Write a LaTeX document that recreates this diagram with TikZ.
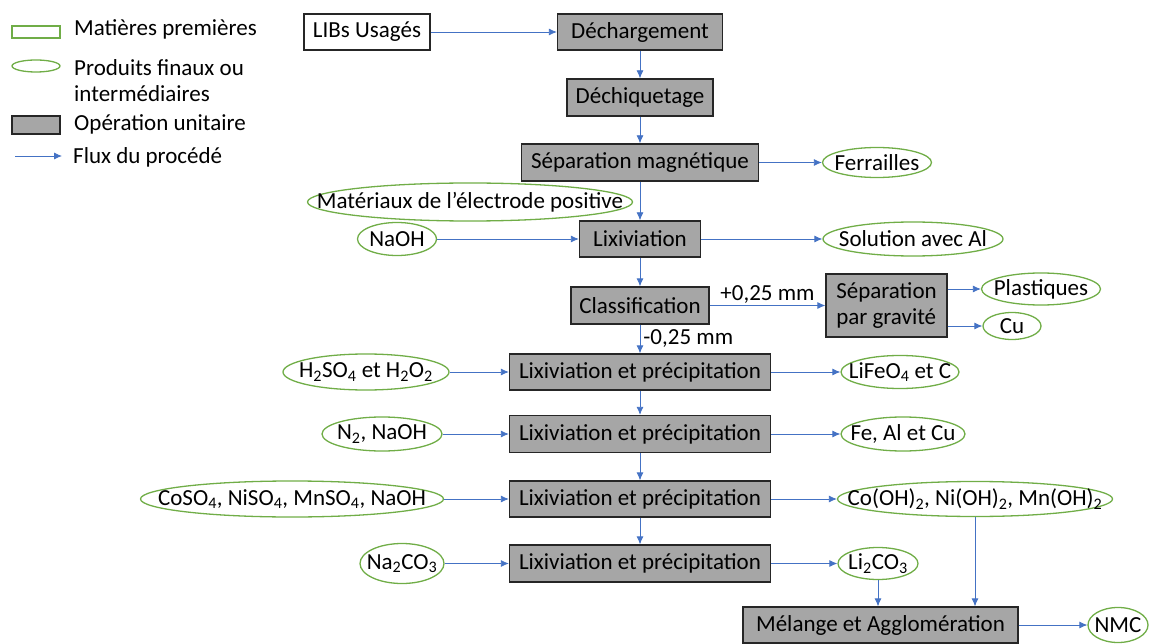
\documentclass[tikz,border=0pt]{standalone}
\usepackage{fontspec}
\setmainfont{Carlito}
\usetikzlibrary{shapes.geometric,arrows.meta}
\definecolor{vertcadre}{RGB}{112,173,71}
\definecolor{grisop}{RGB}{166,166,166}
\definecolor{bleuflux}{RGB}{68,114,196}

\begin{document}
\begin{tikzpicture}[x=1pt, y=-1pt,
    every node/.style={font=\fontsize{23}{26}\selectfont, inner sep=0pt},
    every label/.style={inner sep=0pt},
    op/.style={draw=black!85, fill=grisop, line width=1.3pt, minimum height=36pt},
    entree/.style={draw=black!85, fill=white, line width=1.3pt, minimum height=36pt},
    prod/.style={ellipse, draw=vertcadre, line width=1.3pt, label={center:{#1}}},
    prod/.default={},
    flux/.style={draw=bleuflux, line width=0.8pt, -{Latex[length=8pt,width=7pt]}}]
    \useasboundingbox (0,0) rectangle (1153,644);

    % legende
    \node[draw=vertcadre, line width=1.3pt, minimum width=48pt, minimum height=12pt] (legmp) at (36,32) {};
    \node[prod, minimum width=48pt, minimum height=12pt] (legprod) at (36,66) {};
    \node[op, minimum width=48pt, minimum height=18pt] (legop) at (36,125) {};
    \coordinate (legfa) at (15,156);
    \coordinate (legfb) at (62,156);
    \draw[flux] (legfa) -- (legfb);
    \node[anchor=west] (txtmp) at (74,29) {Matières premières};
    \node[anchor=west, align=left] (txtprod) at (74,81) {Produits finaux ou\\intermédiaires};
    \node[anchor=west] (txtop) at (74,124) {Opération unitaire};
    \node[anchor=west] (txtflux) at (73,157) {Flux du procédé};

    % colonne principale
    \node[entree, minimum width=126pt] (libs) at (367,32) {LIBs Usagés};
    \node[op, minimum width=165pt] (decharg) at (640,32) {Déchargement};
    \node[op, minimum width=146pt, minimum height=37pt] (dechiq) at (640,97.5) {Déchiquetage};
    \node[op, minimum width=237pt, minimum height=37pt] (sepmag) at (640,162.5) {Séparation magnétique};
    \node[op, minimum width=121pt] (lixiv) at (640,239) {Lixiviation};
    \node[op, minimum width=138pt, minimum height=37pt] (classif) at (640,305.5) {Classification};
    \node[op, minimum width=121pt, minimum height=63pt, align=left] (sepgrav) at (886.5,305.5) {Séparation\\par gravité};
    \node[op, minimum width=261pt] (lixa) at (640,372) {Lixiviation et précipitation};
    \node[op, minimum width=261pt, minimum height=37pt] (lixb) at (640,434) {Lixiviation et précipitation};
    \node[op, minimum width=261pt] (lixc) at (640,499) {Lixiviation et précipitation};
    \node[op, minimum width=261pt, minimum height=37pt] (lixd) at (640,563.5) {Lixiviation et précipitation};
    \node[op, minimum width=275pt] (melange) at (880.5,625) {Mélange et Agglomération};

    % reactifs
    \node[prod={Matériaux de l’électrode positive}, minimum width=325pt, minimum height=38pt] (materiaux) at (470,202) {};
    \node[prod={NaOH}, minimum width=79pt, minimum height=33pt] (naoh) at (397,239) {};
    \node[prod={H\textsubscript{2}SO\textsubscript{4} et H\textsubscript{2}O\textsubscript{2}}, minimum width=166pt, minimum height=36pt] (hso) at (366,372) {};
    \node[prod={N\textsubscript{2}, NaOH}, minimum width=120pt, minimum height=34pt] (azote) at (382,434) {};
    \node[prod={CoSO\textsubscript{4}, NiSO\textsubscript{4}, MnSO\textsubscript{4}, NaOH}, minimum width=303pt, minimum height=36pt] (coso) at (292,499) {};
    \node[prod={Na\textsubscript{2}CO\textsubscript{3}}, minimum width=84pt, minimum height=40pt] (naco) at (402,563.5) {};

    % produits
    \node[prod={Ferrailles}, minimum width=109pt, minimum height=30pt] (ferr) at (877,162.5) {};
    \node[prod={Solution avec Al}, minimum width=180pt, minimum height=34pt] (solal) at (913,239) {};
    \node[prod={Plastiques}, minimum width=119pt, minimum height=32pt] (plast) at (1041,289) {};
    \node[prod={Cu}, minimum width=58pt, minimum height=27pt] (cu) at (1012,326) {};
    \node[prod={LiFeO\textsubscript{4} et C}, minimum width=118pt, minimum height=33pt] (lifeo) at (900,372) {};
    \node[prod={Fe, Al et Cu}, minimum width=124pt, minimum height=34pt] (feal) at (903,434) {};
    \node[prod={Co(OH)\textsubscript{2}, Ni(OH)\textsubscript{2}, Mn(OH)\textsubscript{2}}, minimum width=275pt, minimum height=35pt] (coh) at (975,499) {};
    \node[prod={Li\textsubscript{2}CO\textsubscript{3}}, minimum width=80pt, minimum height=32pt] (lico) at (878,563.5) {};
    \node[prod={NMC}, minimum width=60pt, minimum height=35pt] (nmc) at (1118,625) {};

    % flux
    \draw[flux] (libs) -- (decharg);
    \draw[flux] (decharg) -- (dechiq);
    \draw[flux] (dechiq) -- (sepmag);
    \draw[flux] (sepmag) -- (lixiv);
    \draw[flux] (sepmag) -- (ferr);
    \draw[flux] (naoh) -- (lixiv);
    \draw[flux] (lixiv) -- (solal);
    \draw[flux] (lixiv) -- (classif);
    \draw[flux] (classif) -- node[midway, above=2pt] (grosse) {+0,25 mm} (sepgrav);
    \draw[flux] (classif) -- node[midway, anchor=west, xshift=3pt] (fine) {-0,25 mm} (lixa);
    \draw[flux] (sepgrav.east |- plast) -- (plast);
    \draw[flux] (sepgrav.east |- cu) -- (cu);
    \draw[flux] (hso) -- (lixa);
    \draw[flux] (lixa) -- (lifeo);
    \draw[flux] (lixa) -- (lixb);
    \draw[flux] (azote) -- (lixb);
    \draw[flux] (lixb) -- (feal);
    \draw[flux] (lixb) -- (lixc);
    \draw[flux] (coso) -- (lixc);
    \draw[flux] (lixc) -- (coh);
    \draw[flux] (lixc) -- (lixd);
    \draw[flux] (naco) -- (lixd);
    \draw[flux] (lixd) -- (lico);
    \draw[flux] (lico.south) -- (lico.south |- melange.north);
    \draw[flux] (coh.south) -- (coh.south |- melange.north);
    \draw[flux] (melange) -- (nmc);
\end{tikzpicture}
\end{document}
